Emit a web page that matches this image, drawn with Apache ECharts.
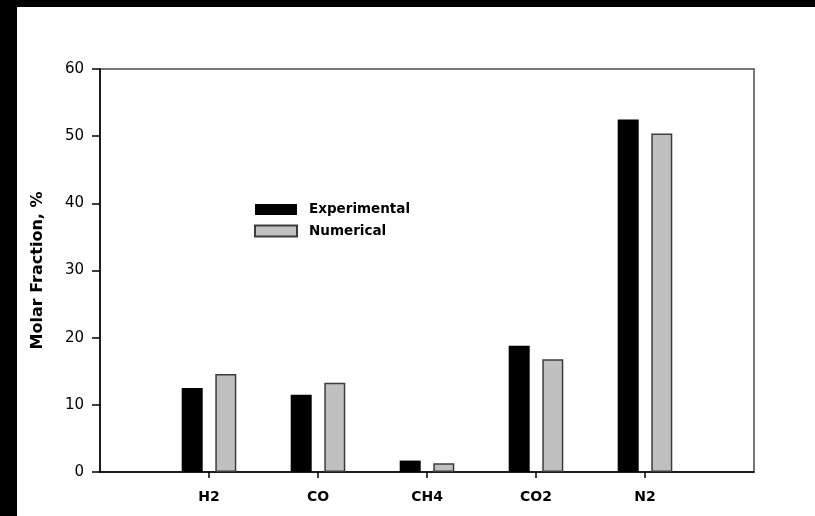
<!DOCTYPE html>
<html>
<head>
<meta charset="utf-8">
<script src="https://cdn.jsdelivr.net/npm/echarts@6/dist/echarts.min.js"></script>
<style>
html,body{margin:0;padding:0;background:#fff;}
#c{width:815px;height:516px;}
</style>
</head>
<body>
<div id="c"></div>
<script>
const categories = ['H2', 'CO', 'CH4', 'CO2', 'N2'];
const experimental = [12.5, 11.5, 1.7, 18.8, 52.5];
const numerical = [14.6, 13.3, 1.3, 16.8, 50.4];
const yTicks = [0, 10, 20, 30, 40, 50, 60];

const pad = a => [null].concat(a, [null]);
const xCats = [''].concat(categories, ['']);
const FONT = '"DejaVu Sans", "Liberation Sans", Arial, sans-serif';

const chart = echarts.init(document.getElementById('c'), null, {renderer: 'canvas'});
chart.setOption({
  backgroundColor: '#fff',
  animation: false,
  graphic: [
    {type: 'rect', left: 0, top: 0, shape: {width: 815, height: 7}, style: {fill: '#000'}, z: 100},
    {type: 'rect', left: 0, top: 0, shape: {width: 17, height: 516}, style: {fill: '#000'}, z: 100}
  ],
  grid: {left: 100, right: 61, top: 69, bottom: 44, show: true, borderColor: '#4a4a4a', borderWidth: 1.5, backgroundColor: 'transparent'},
  legend: {
    orient: 'vertical', left: 249, top: 197.5,
    itemWidth: 42, itemHeight: 11, itemGap: 7.5,
    icon: 'rect',
    textStyle: {fontFamily: FONT, fontWeight: 'bold', fontSize: 13.5, color: '#000', lineHeight: 14, padding: [0, 0, 0, 7]},
    data: ['Experimental', 'Numerical']
  },
  xAxis: {
    type: 'category', data: xCats, boundaryGap: false,
    axisLine: {lineStyle: {color: '#000', width: 1.5}},
    axisTick: {show: true, length: 6, interval: (i, v) => v !== '', lineStyle: {color: '#000', width: 1.5}},
    axisLabel: {interval: (i, v) => v !== '', margin: 18, fontFamily: FONT, fontWeight: 'bold', fontSize: 14, color: '#000'},
    splitLine: {show: false}
  },
  yAxis: {
    type: 'value', min: yTicks[0], max: yTicks[yTicks.length - 1], interval: 10,
    name: 'Molar Fraction, %', nameLocation: 'middle', nameGap: 54,
    nameTextStyle: {fontFamily: FONT, fontWeight: 'bold', fontSize: 16, color: '#000'},
    axisLine: {show: true, lineStyle: {color: '#000', width: 1.5}},
    axisTick: {show: true, length: 8, lineStyle: {color: '#000', width: 1.5}},
    axisLabel: {margin: 16, fontFamily: FONT, fontSize: 15, color: '#000'},
    splitLine: {show: false}
  },
  series: [
    {name: 'Experimental', type: 'bar', data: pad(experimental), barWidth: 21, barGap: '60%',
     itemStyle: {color: '#000', borderColor: '#000', borderWidth: 0}},
    {name: 'Numerical', type: 'bar', data: pad(numerical), barWidth: 21,
     itemStyle: {color: '#c0c0c0', borderColor: '#3c3c3c', borderWidth: 1.5}}
  ]
});
</script>
</body>
</html>
